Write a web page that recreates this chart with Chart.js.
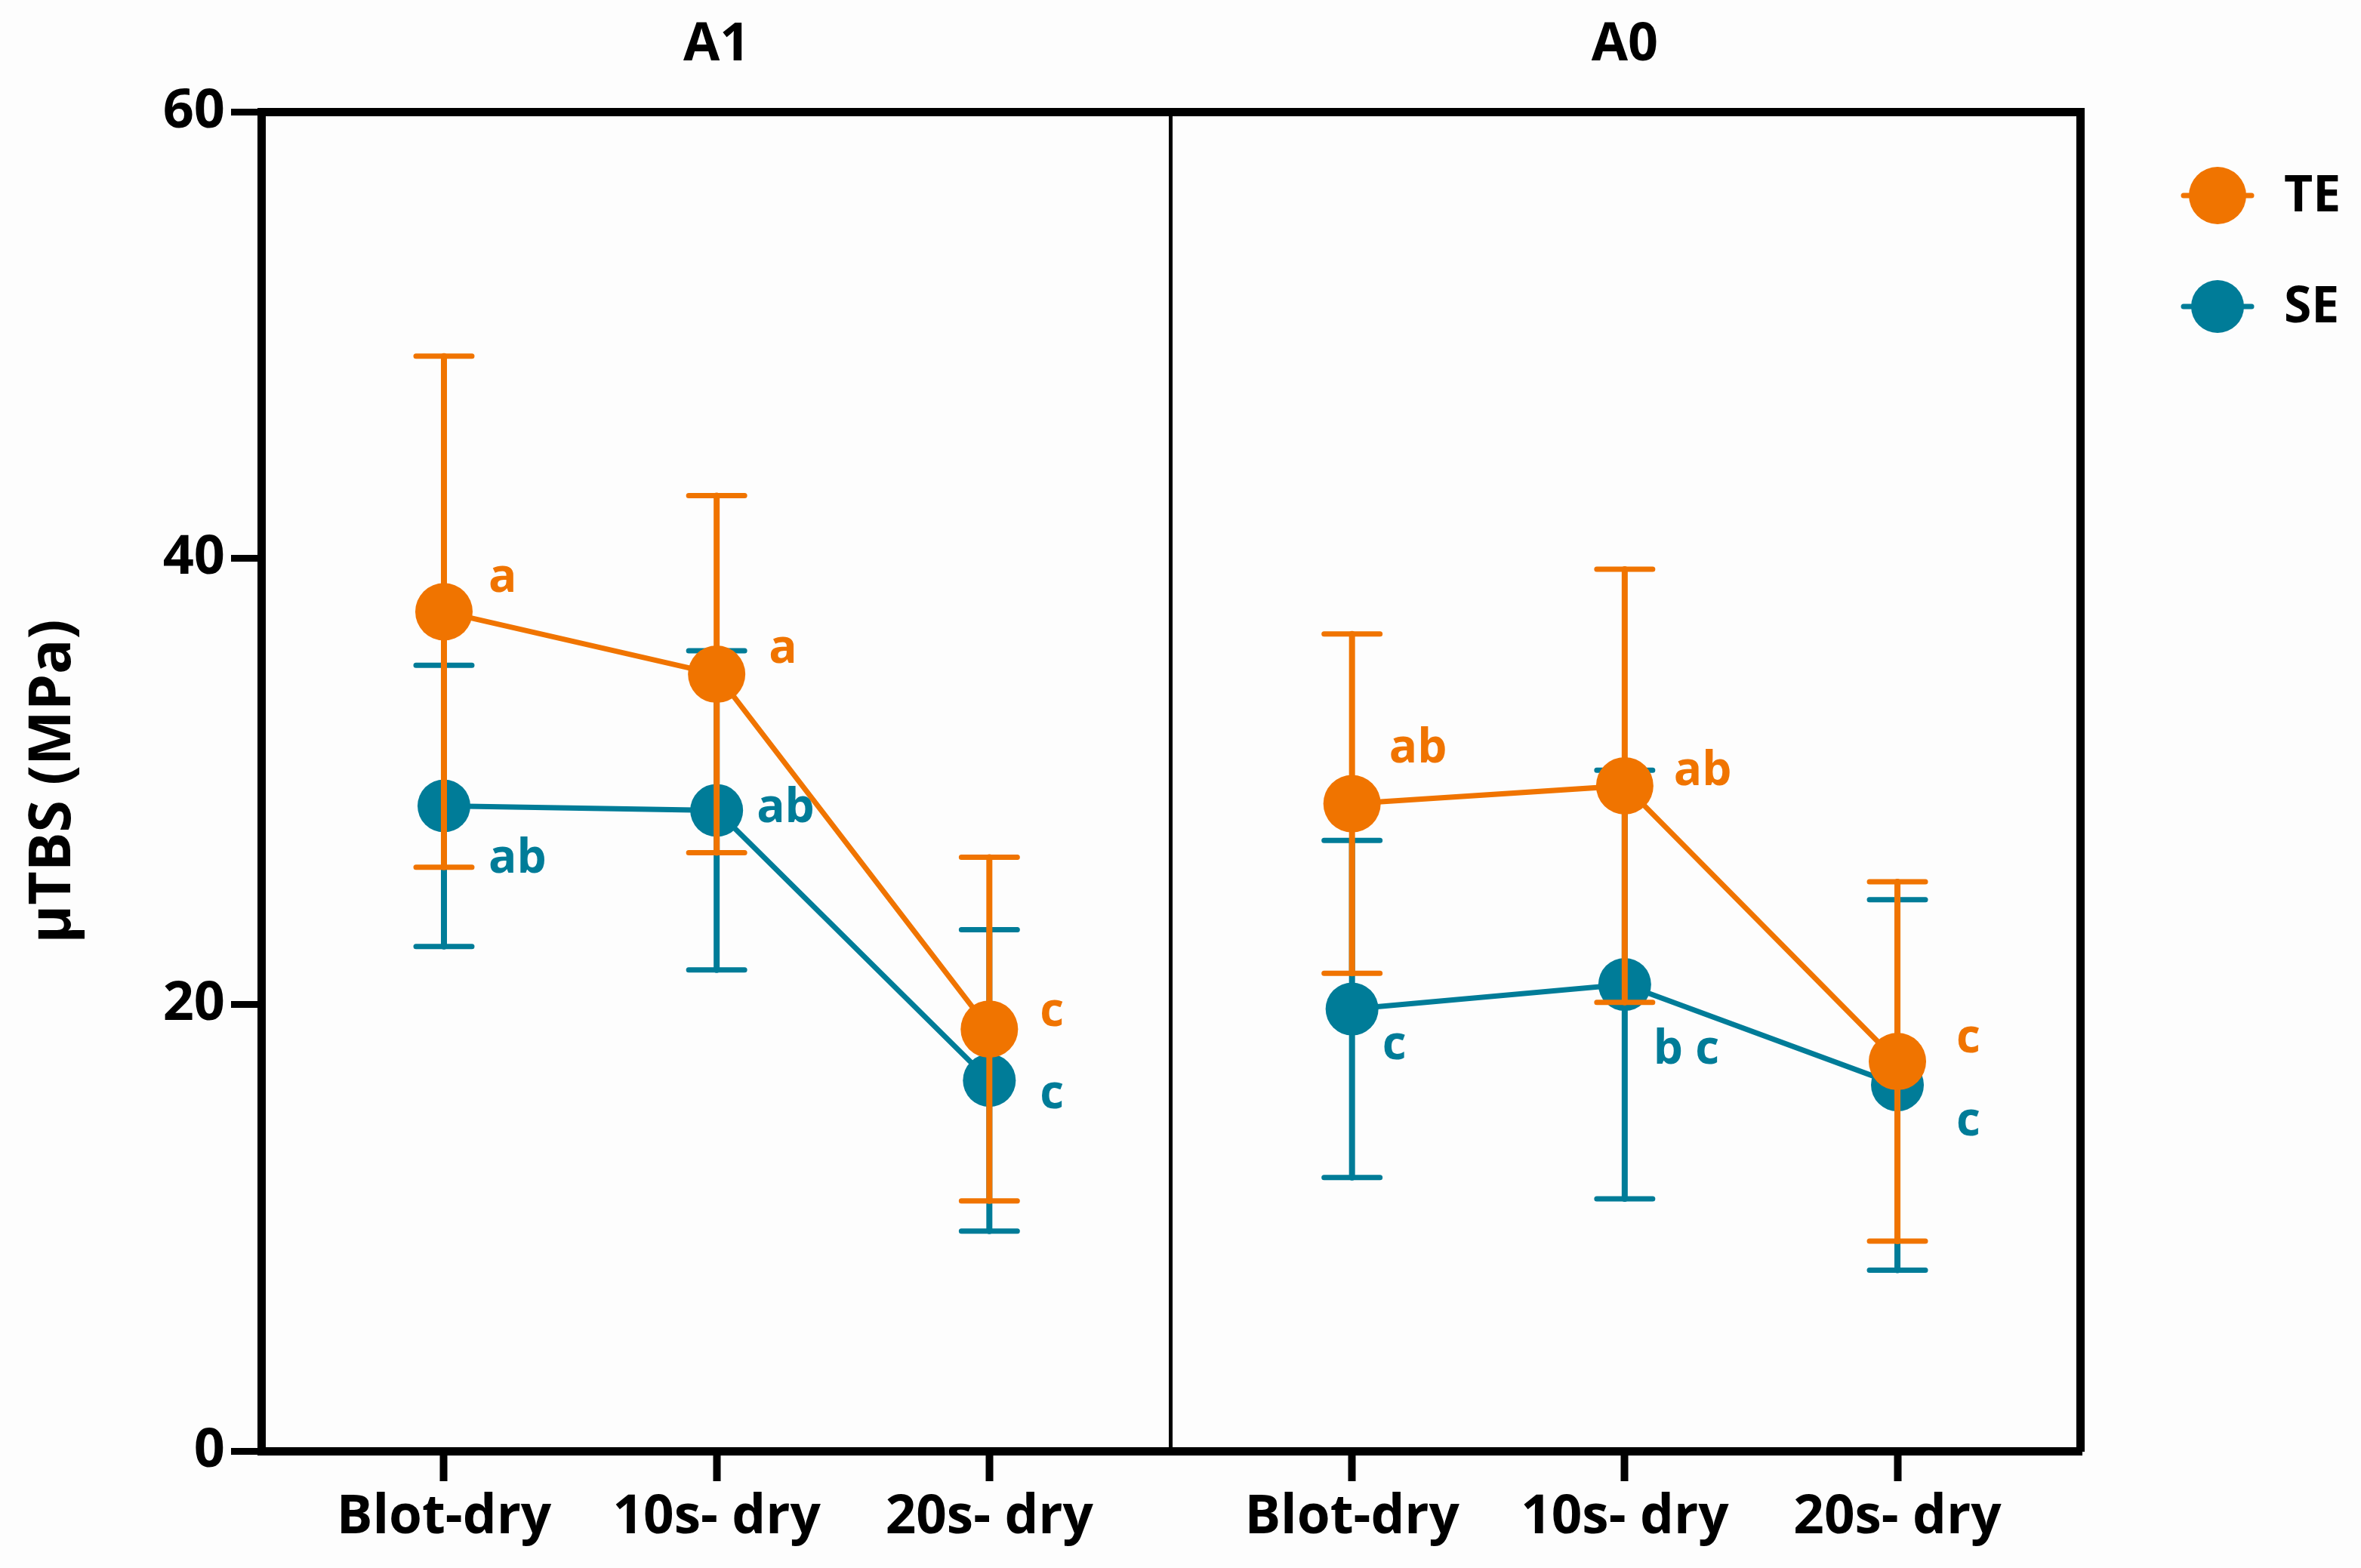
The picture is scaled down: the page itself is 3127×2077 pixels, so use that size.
<!DOCTYPE html>
<html><head><meta charset="utf-8">
<script src="https://cdn.jsdelivr.net/npm/chart.js@4.4.0/dist/chart.umd.min.js"></script>
<style>html,body{margin:0;padding:0;background:#fdfdfd;overflow:hidden;} canvas{display:block;}</style>
</head><body>
<canvas id="c" width="3127" height="2077"></canvas>
<script>
// ---- data ----
const groups = ['A1', 'A0'];
const conditions = ['Blot-dry', '10s- dry', '20s- dry'];
const seriesNames = ['TE', 'SE'];
const teMean = [37.6, 34.8, 18.9, 29.0, 29.8, 17.45];
const teSD   = [11.45, 8.0, 7.7, 7.6, 9.7, 8.05];
const seMean = [28.9, 28.7, 16.6, 19.8, 20.9, 16.4];
const seSD   = [6.3, 7.15, 6.75, 7.55, 9.6, 8.3];
const teLetters = ['a', 'a', 'c', 'ab', 'ab', 'c'];
const seLetters = ['ab', 'ab', 'c', 'c', 'b c', 'c'];
const yTicks = [0, 20, 40, 60];

// ---- layout / style ----
const ORANGE = '#F07400', TEAL = '#007C98';
const slotX = [0.67, 1.67, 2.67, 4, 5, 6];
const dividerX = 3.335;
const groupX = [1.67, 5];
const FONT = "'Open Sans', 'Noto Sans', sans-serif";
const teLetterOff = [[59,-26],[69,-15],[67,-4],[49,-55],[65,-1],[78,-12]];
const seLetterOff = [[59,88],[53,16],[67,37],[40,66],[38,105],[78,67]];

function toPoints(means){
  const pts = [];
  means.forEach((m,i)=>{ if(i===3) pts.push({x:dividerX, y:null}); pts.push({x:slotX[i], y:m}); });
  return pts;
}

const errorBars = {
  id: 'errorBars',
  beforeDatasetDraw(chart, args){
    const ds = chart.data.datasets[args.index];
    if(!ds.means) return;
    const xs = chart.scales.x, ys = chart.scales.y, ctx = chart.ctx;
    ctx.save();
    ctx.strokeStyle = ds.borderColor; ctx.lineCap = 'round';
    ds.means.forEach((m,i)=>{
      const px = xs.getPixelForValue(slotX[i]);
      const top = ys.getPixelForValue(m + ds.sd[i]);
      const bot = ys.getPixelForValue(m - ds.sd[i]);
      ctx.lineWidth = 8;
      ctx.beginPath(); ctx.moveTo(px, top); ctx.lineTo(px, bot); ctx.stroke();
      ctx.lineWidth = 7;
      ctx.beginPath();
      ctx.moveTo(px-37, top); ctx.lineTo(px+37, top);
      ctx.moveTo(px-37, bot); ctx.lineTo(px+37, bot);
      ctx.stroke();
    });
    ctx.restore();
  }
};

const letters = {
  id: 'letters',
  afterDatasetsDraw(chart){
    const xs = chart.scales.x, ys = chart.scales.y, ctx = chart.ctx;
    ctx.save();
    ctx.font = '700 62px ' + FONT;
    ctx.textAlign = 'left'; ctx.textBaseline = 'alphabetic';
    chart.data.datasets.forEach(ds=>{
      if(!ds.means) return;
      ctx.fillStyle = ds.borderColor;
      ds.means.forEach((m,i)=>{
        const px = xs.getPixelForValue(slotX[i]);
        const py = ys.getPixelForValue(m);
        ctx.fillText(ds.letters[i], px + ds.letterOff[i][0], py + ds.letterOff[i][1]);
      });
    });
    ctx.restore();
  }
};

const legendPlugin = {
  id: 'customLegend',
  afterDraw(chart){
    const ctx = chart.ctx;
    const cx = chart.chartArea.right + 182;
    const rows = [{y:259, c:ORANGE, r:38, t:seriesNames[0]}, {y:406, c:TEAL, r:35, t:seriesNames[1]}];
    ctx.save();
    rows.forEach(rw=>{
      ctx.strokeStyle = rw.c; ctx.lineWidth = 7; ctx.lineCap = 'round';
      ctx.beginPath(); ctx.moveTo(cx-45, rw.y); ctx.lineTo(cx+45, rw.y); ctx.stroke();
      ctx.fillStyle = rw.c;
      ctx.beginPath(); ctx.arc(cx, rw.y, rw.r, 0, Math.PI*2); ctx.fill();
      ctx.fillStyle = '#000';
      ctx.font = '700 66px ' + FONT;
      ctx.textAlign = 'left'; ctx.textBaseline = 'middle';
      ctx.fillText(rw.t, cx + 88, rw.y + 2);
    });
    ctx.restore();
  }
};

const bg = {
  id: 'bg',
  beforeDraw(chart){ const c = chart.ctx; c.save(); c.fillStyle = '#fdfdfd'; c.fillRect(0,0,chart.width,chart.height); c.restore(); }
};

new Chart(document.getElementById('c'), {
  type: 'line',
  data: {
    datasets: [
      { label: seriesNames[0], data: toPoints(teMean), means: teMean, sd: teSD, letters: teLetters, letterOff: teLetterOff,
        borderColor: ORANGE, backgroundColor: ORANGE, borderWidth: 7, pointRadius: 38, pointHoverRadius: 38,
        pointBackgroundColor: ORANGE, pointBorderWidth: 0, spanGaps: false, tension: 0, clip: false },
      { label: seriesNames[1], data: toPoints(seMean), means: seMean, sd: seSD, letters: seLetters, letterOff: seLetterOff,
        borderColor: TEAL, backgroundColor: TEAL, borderWidth: 7, pointRadius: 35, pointHoverRadius: 35,
        pointBackgroundColor: TEAL, pointBorderWidth: 0, spanGaps: false, tension: 0, clip: false }
    ]
  },
  options: {
    responsive: false, animation: false, devicePixelRatio: 1,
    layout: { padding: { left: 0, right: 372, top: 0, bottom: 0 } },
    plugins: { legend: { display: false }, tooltip: { enabled: false } },
    scales: {
      x: {
        type: 'linear', position: 'bottom', min: 0, max: 6.67,
        afterBuildTicks: s => { s.ticks = [slotX[0], slotX[1], slotX[2], dividerX, slotX[3], slotX[4], slotX[5]].map(v=>({value:v})); },
        afterFit: s => { s.height = 155; },
        ticks: { autoSkip: false, maxRotation: 0, color: '#000', padding: 6,
          font: { family: FONT, size: 71, weight: '700' },
          callback: v => { const i = slotX.indexOf(v); return i < 0 ? '' : conditions[i % 3]; } },
        grid: { drawOnChartArea: true, drawTicks: true, tickLength: 40, tickWidth: 10,
          color: c => (c.tick && c.tick.value === dividerX) ? '#000' : 'rgba(0,0,0,0)',
          lineWidth: 5,
          tickColor: c => (c.tick && c.tick.value === dividerX) ? 'rgba(0,0,0,0)' : '#000' },
        border: { display: true, color: '#000', width: 11 }
      },
      x2: {
        type: 'linear', position: 'top', min: 0, max: 6.67,
        afterBuildTicks: s => { s.ticks = groupX.map(v=>({value:v})); },
        afterFit: s => { s.height = 148; },
        ticks: { autoSkip: false, maxRotation: 0, color: '#000', padding: 46,
          font: { family: FONT, size: 70, weight: '700' },
          callback: v => groups[groupX.indexOf(v)] },
        grid: { drawOnChartArea: false, drawTicks: false },
        border: { display: true, color: '#000', width: 11 }
      },
      y: {
        type: 'linear', position: 'left', min: 0, max: 60,
        afterBuildTicks: s => { s.ticks = yTicks.map(v=>({value:v})); },
        afterFit: s => { s.width = 346; },
        ticks: { color: '#000', padding: 8, font: { family: FONT, size: 72, weight: '700' } },
        grid: { drawOnChartArea: false, drawTicks: true, tickLength: 40, tickWidth: 9, tickColor: '#000' },
        border: { display: true, color: '#000', width: 11 },
        title: { display: true, text: 'µTBS (MPa)', color: '#000', padding: { top: 25, bottom: 0 },
          font: { family: FONT, size: 77, weight: '700' } }
      },
      y2: {
        type: 'linear', position: 'right', min: 0, max: 60,
        afterFit: s => { s.width = 0; },
        ticks: { display: false },
        grid: { drawOnChartArea: false, drawTicks: false },
        border: { display: true, color: '#000', width: 11 }
      }
    }
  },
  plugins: [bg, errorBars, letters, legendPlugin]
});
</script>
</body></html>
